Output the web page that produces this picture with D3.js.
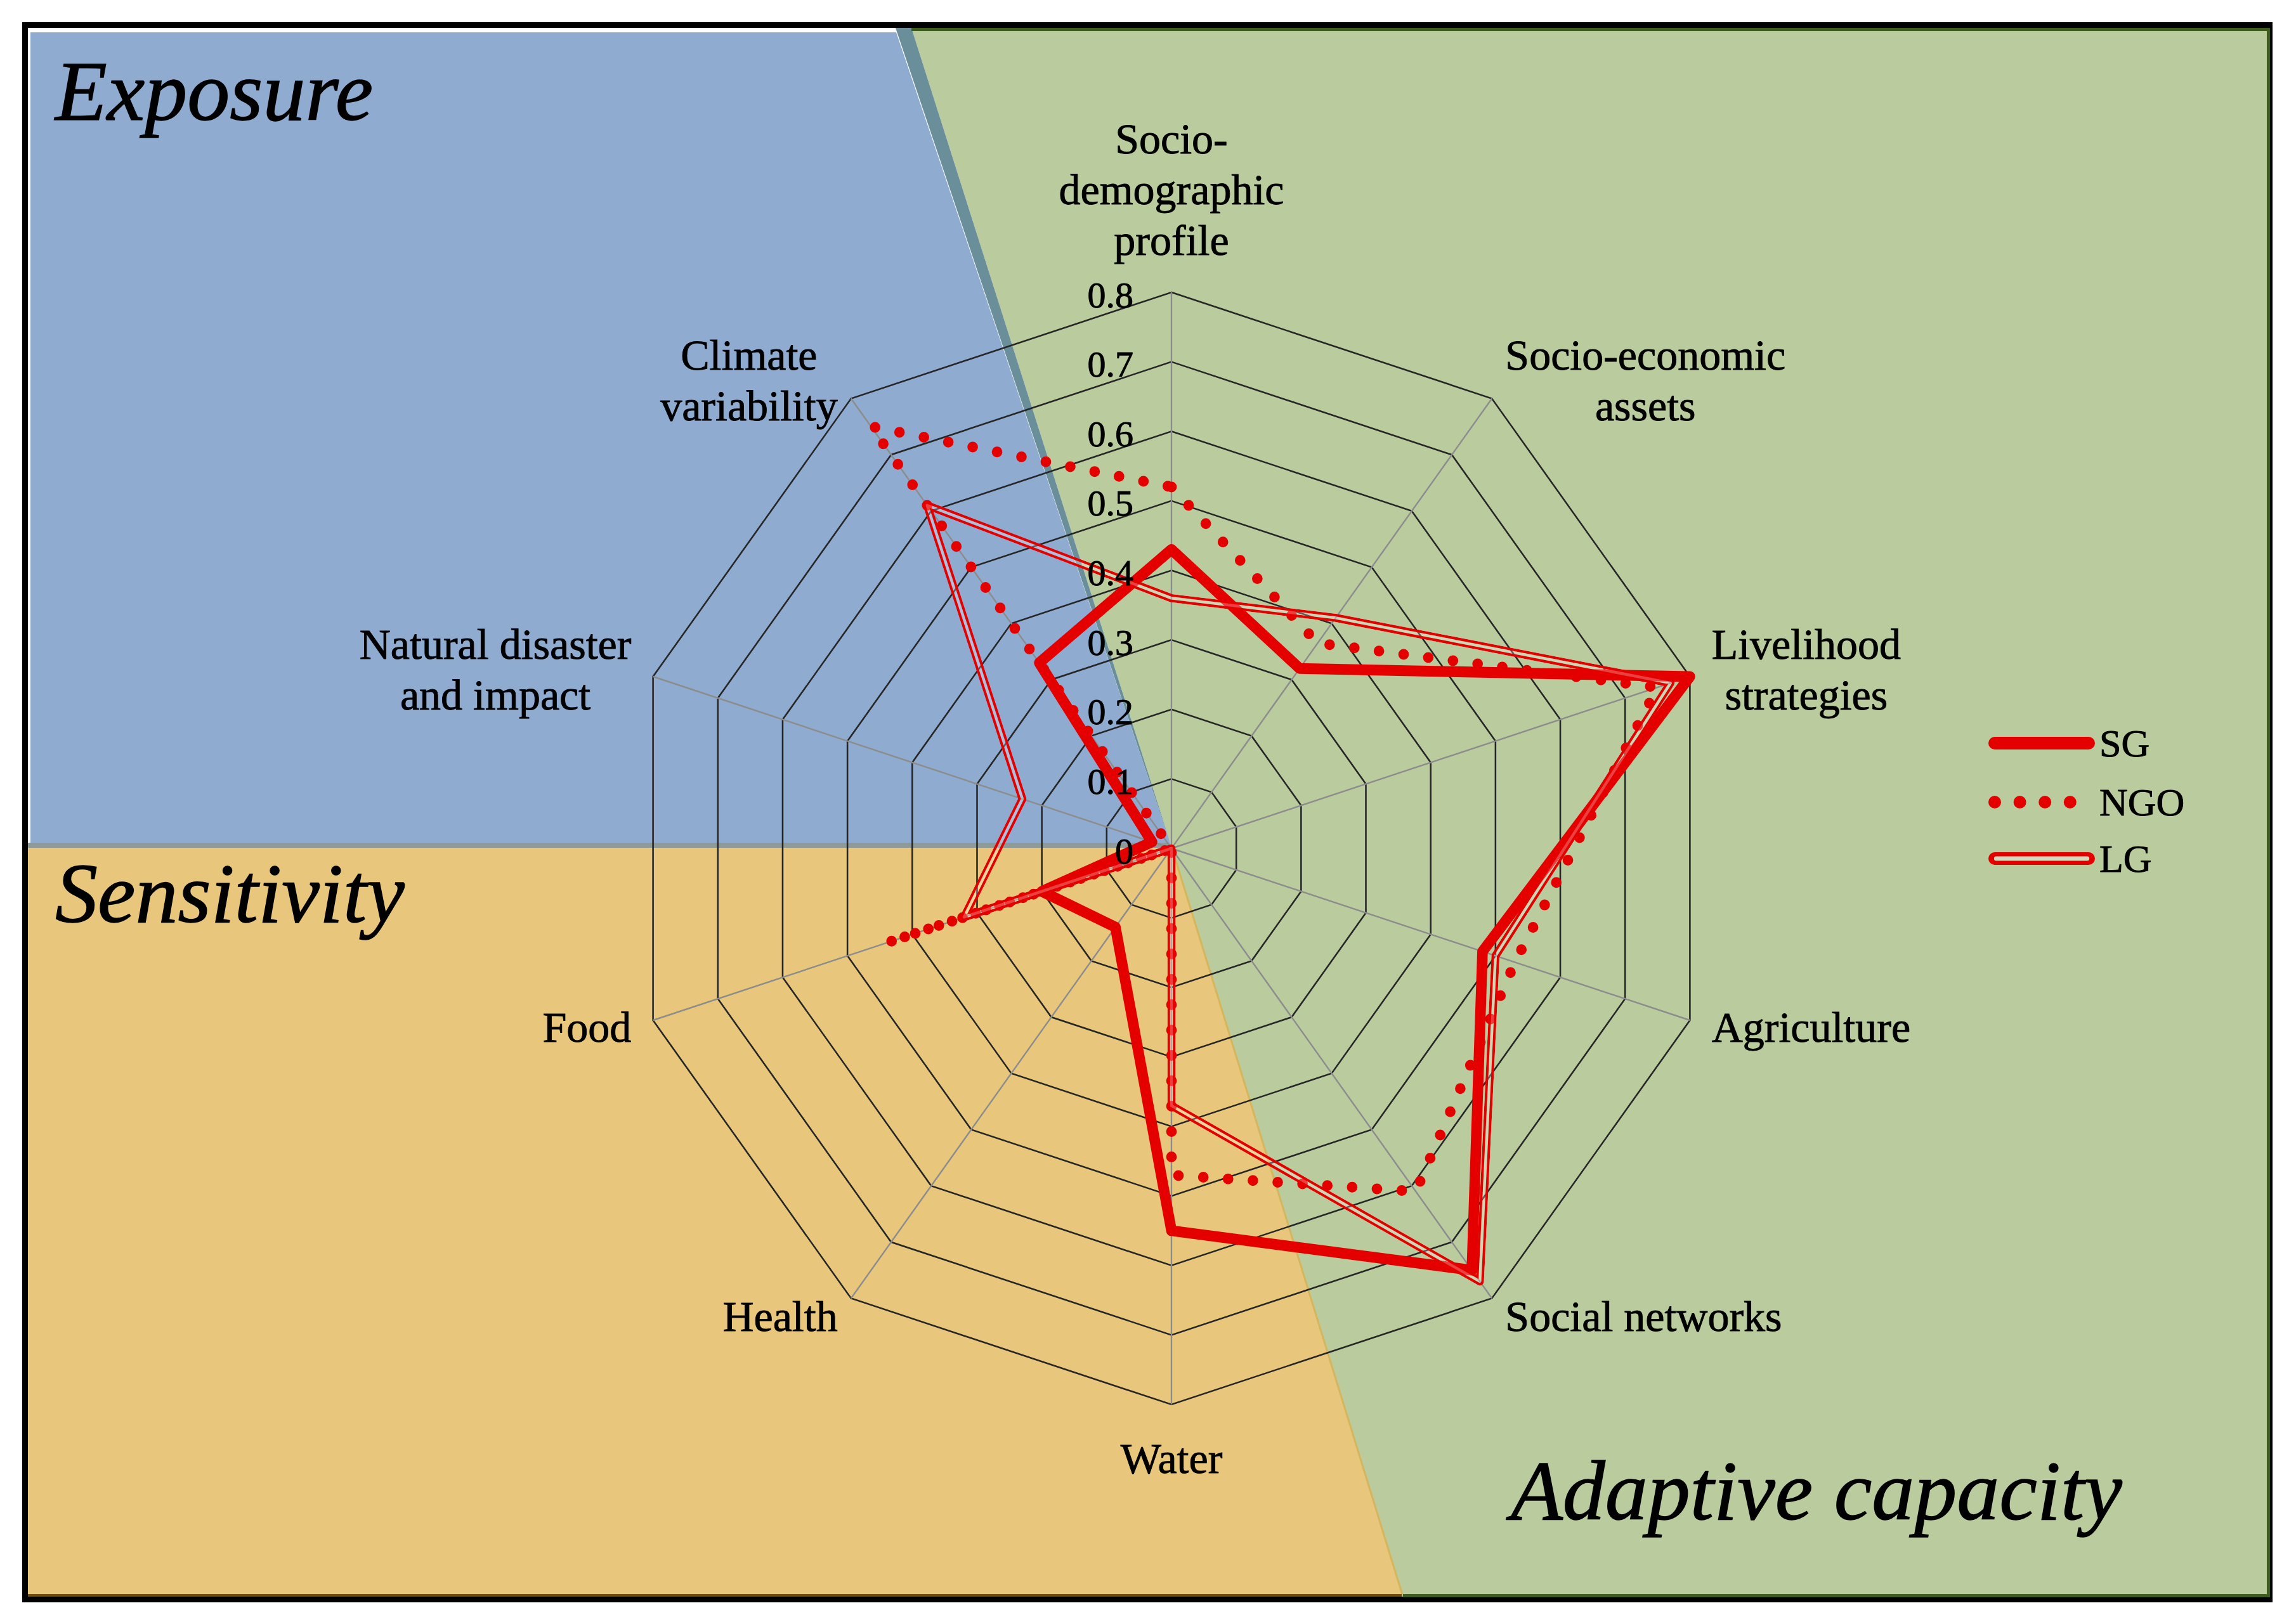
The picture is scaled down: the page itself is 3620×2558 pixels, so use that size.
<!DOCTYPE html>
<html lang="en">
<head>
<meta charset="utf-8">
<title>Vulnerability radar</title>
<style>
  body { margin: 0; background: #fff; }
  svg text { font-family: "Palatino Linotype", "Book Antiqua", Palatino, "Liberation Serif", serif; fill: #000; stroke: #000; stroke-width: 0.9px; }
  .cat { font-size: 68px; }
  .tick { font-size: 58px; }
  .legend text { font-size: 62px; }
  .title { font-size: 134px; font-style: italic; stroke-width: 1.4px; }
</style>
</head>
<body>
<div id="chart"></div>
<script src="https://d3js.org/d3.v7.min.js"></script>
<script>
// categories clockwise from the top, each split into its label lines
var categories = [
  ["Socio-", "demographic", "profile"],
  ["Socio-economic", "assets"],
  ["Livelihood", "strategies"],
  ["Agriculture"],
  ["Social networks"],
  ["Water"],
  ["Health"],
  ["Food"],
  ["Natural disaster", "and impact"],
  ["Climate", "variability"]
];
var sgValues  = [0.43, 0.32, 0.80, 0.48, 0.75, 0.55, 0.14, 0.20, 0.03, 0.33];
var ngoValues = [0.52, 0.365, 0.75, 0.53, 0.61, 0.47, 0.00, 0.44, 0.00, 0.75];
var lgValues  = [0.36, 0.41, 0.77, 0.50, 0.77, 0.37, 0.00, 0.32, 0.23, 0.61];
var tickValues = [0, 0.1, 0.2, 0.3, 0.4, 0.5, 0.6, 0.7, 0.8];
var tickLabels = ["0", "0.1", "0.2", "0.3", "0.4", "0.5", "0.6", "0.7", "0.8"];
var seriesNames = ["SG", "NGO", "LG"];
var panelTitles = ["Exposure", "Sensitivity", "Adaptive capacity"];

var W = 3620, H = 2558;
var cx = 1847, cy = 1338, R = 877, squeeze = 0.98;
var red = "#e50000";

var svg = d3.select("#chart").append("svg")
    .attr("width", W)
    .attr("height", H);

// background panels
svg.append("rect").attr("width", W).attr("height", H).attr("fill", "#fff");
svg.append("polygon")
    .attr("points", [[48, 51], [1413, 51], [cx, 1335], [48, 1335]].join(" "))
    .attr("fill", "#8fabd0");
svg.append("polygon")
    .attr("points", [[44, 1335], [cx, 1335], [2212, 2518], [44, 2518]].join(" "))
    .attr("fill", "#e8c77d");
svg.append("polygon")
    .attr("points", [[1437, 44], [3576, 44], [3576, 2518], [2212, 2518], [cx, 1335]].join(" "))
    .attr("fill", "#bacb9e");
svg.append("polygon")
    .attr("points", [[1412, 44], [1437, 44], [cx, 1335]].join(" "))
    .attr("fill", "#6a8e9a");
svg.append("line")
    .attr("x1", 44).attr("x2", cx - 4).attr("y1", 1333).attr("y2", 1333)
    .attr("stroke", "#8d9a97").attr("stroke-width", 8);
svg.append("line")
    .attr("x1", cx).attr("y1", 1335).attr("x2", 2212).attr("y2", 2518)
    .attr("stroke", "#d5b65c").attr("stroke-width", 3);

// frame
svg.append("rect")
    .attr("x", 39.5).attr("y", 39.5).attr("width", 3539).attr("height", 2483)
    .attr("fill", "none").attr("stroke", "#000").attr("stroke-width", 9);
svg.append("polyline")
    .attr("points", [[1437, 46.5], [3576.5, 46.5], [3576.5, 2516.5], [2212, 2516.5]].join(" "))
    .attr("fill", "none").attr("stroke", "#3d5c1d").attr("stroke-width", 5);
svg.append("line")
    .attr("x1", 44).attr("x2", 2210).attr("y1", 2516).attr("y2", 2516)
    .attr("stroke", "#6e4c0c").attr("stroke-width", 4);

// panel titles
svg.append("text").attr("class", "title").attr("x", 87).attr("y", 189).text(panelTitles[0]);
svg.append("text").attr("class", "title").attr("x", 87).attr("y", 1454).text(panelTitles[1]);
svg.append("text").attr("class", "title").attr("x", 2382).attr("y", 2396).text(panelTitles[2]);

// scales
var r = d3.scaleLinear().domain([0, 0.8]).range([0, R]);
var angle = d3.scaleLinear().domain([0, categories.length]).range([0, 2 * Math.PI]);

var radar = d3.lineRadial()
    .angle(function(d, i) { return angle(i); })
    .radius(function(d) { return r(d); })
    .curve(d3.curveLinearClosed);

var plot = svg.append("g")
    .attr("transform", "translate(" + cx + "," + cy + ") scale(" + squeeze + ",1)");

// rings
plot.selectAll(".ring")
  .data(tickValues.slice(1))
  .enter().append("path")
    .attr("class", "ring")
    .attr("d", function(t) { return radar(categories.map(function() { return t; })); })
    .attr("fill", "none")
    .attr("stroke", "#262626")
    .attr("stroke-width", 2.6);

// spokes
plot.selectAll(".spoke")
  .data(categories)
  .enter().append("line")
    .attr("class", "spoke")
    .attr("x1", 0).attr("y1", 0)
    .attr("x2", function(d, i) { return r(0.8) * Math.sin(angle(i)); })
    .attr("y2", function(d, i) { return -r(0.8) * Math.cos(angle(i)); })
    .attr("stroke", "#8c8c8c")
    .attr("stroke-width", 2.4);

// series
var sgPath = radar(sgValues), ngoPath = radar(ngoValues), lgPath = radar(lgValues);

plot.append("path")
    .attr("d", sgPath)
    .attr("fill", "none").attr("stroke", red)
    .attr("stroke-width", 17).attr("stroke-linejoin", "round");

plot.append("path")
    .attr("d", ngoPath)
    .attr("fill", "none").attr("stroke", red)
    .attr("stroke-width", 17).attr("stroke-linecap", "round")
    .attr("stroke-dasharray", "0 40");

// double line for LG: red stroke with a see-through gap
var mask = svg.append("defs").append("mask")
    .attr("id", "lgGap")
    .attr("maskUnits", "userSpaceOnUse")
    .attr("x", -2000).attr("y", -2000).attr("width", 4000).attr("height", 4000);
mask.append("path").attr("d", lgPath).attr("fill", "none")
    .attr("stroke", "#fff").attr("stroke-width", 13).attr("stroke-linejoin", "round");
mask.append("path").attr("d", lgPath).attr("fill", "none")
    .attr("stroke", "#000").attr("stroke-width", 4.5).attr("stroke-linejoin", "round");
plot.append("path")
    .attr("d", lgPath)
    .attr("fill", "none").attr("stroke", red)
    .attr("stroke-width", 13).attr("stroke-linejoin", "round")
    .attr("mask", "url(#lgGap)");
plot.append("path")
    .attr("d", lgPath)
    .attr("fill", "none").attr("stroke", "#fff").attr("stroke-opacity", 0.25)
    .attr("stroke-width", 4.5).attr("stroke-linejoin", "round");

// tick labels along the top axis
svg.selectAll(".tick")
  .data(tickValues)
  .enter().append("text")
    .attr("class", "tick")
    .attr("x", cx - 60)
    .attr("y", function(t) { return cy - r(t) + 4; })
    .attr("text-anchor", "end")
    .attr("dominant-baseline", "central")
    .text(function(t, i) { return tickLabels[i]; });

// category labels
var lineH = 80;
categories.forEach(function(lines, i) {
  var a = angle(i), s = Math.sin(a), c = Math.cos(a);
  var vx = cx + squeeze * r(0.8) * s, vy = cy - r(0.8) * c;
  var texts = lines.map(function(l) {
    return svg.append("text").attr("class", "cat")
        .attr("text-anchor", "middle")
        .attr("dominant-baseline", "central")
        .text(l);
  });
  var n = lines.length, x, y0;
  if (Math.abs(s) < 0.1) {
    x = vx;
    y0 = c > 0 ? vy - 82 - (n - 1) * lineH : vy + 85;
  } else {
    var w = d3.max(texts, function(t) { return t.node().getComputedTextLength(); });
    x = vx + Math.sign(s) * (36 * Math.abs(s) + w / 2);
    y0 = vy - 35 * c - (n - 1) * lineH / 2;
  }
  texts.forEach(function(t, k) { t.attr("x", x).attr("y", y0 + k * lineH); });
});

// legend
var legend = svg.append("g").attr("class", "legend");
var ly = [1172, 1265, 1354];
legend.append("line")
    .attr("x1", 3145).attr("x2", 3293).attr("y1", ly[0]).attr("y2", ly[0])
    .attr("stroke", red).attr("stroke-width", 20).attr("stroke-linecap", "round");
legend.append("line")
    .attr("x1", 3145).attr("x2", 3264).attr("y1", ly[1]).attr("y2", ly[1])
    .attr("stroke", red).attr("stroke-width", 20).attr("stroke-linecap", "round")
    .attr("stroke-dasharray", "0 39.6");
legend.append("rect")
    .attr("x", 3135).attr("y", ly[2] - 10).attr("width", 168).attr("height", 20).attr("rx", 10)
    .attr("fill", red);
legend.append("rect")
    .attr("x", 3144).attr("y", ly[2] - 3.5).attr("width", 150).attr("height", 7).attr("rx", 3)
    .attr("fill", "#d3d9bd");
legend.selectAll("text")
  .data(seriesNames)
  .enter().append("text")
    .attr("x", 3310)
    .attr("y", function(d, i) { return ly[i]; })
    .attr("dominant-baseline", "central")
    .text(function(d) { return d; });
</script>
</body>
</html>
